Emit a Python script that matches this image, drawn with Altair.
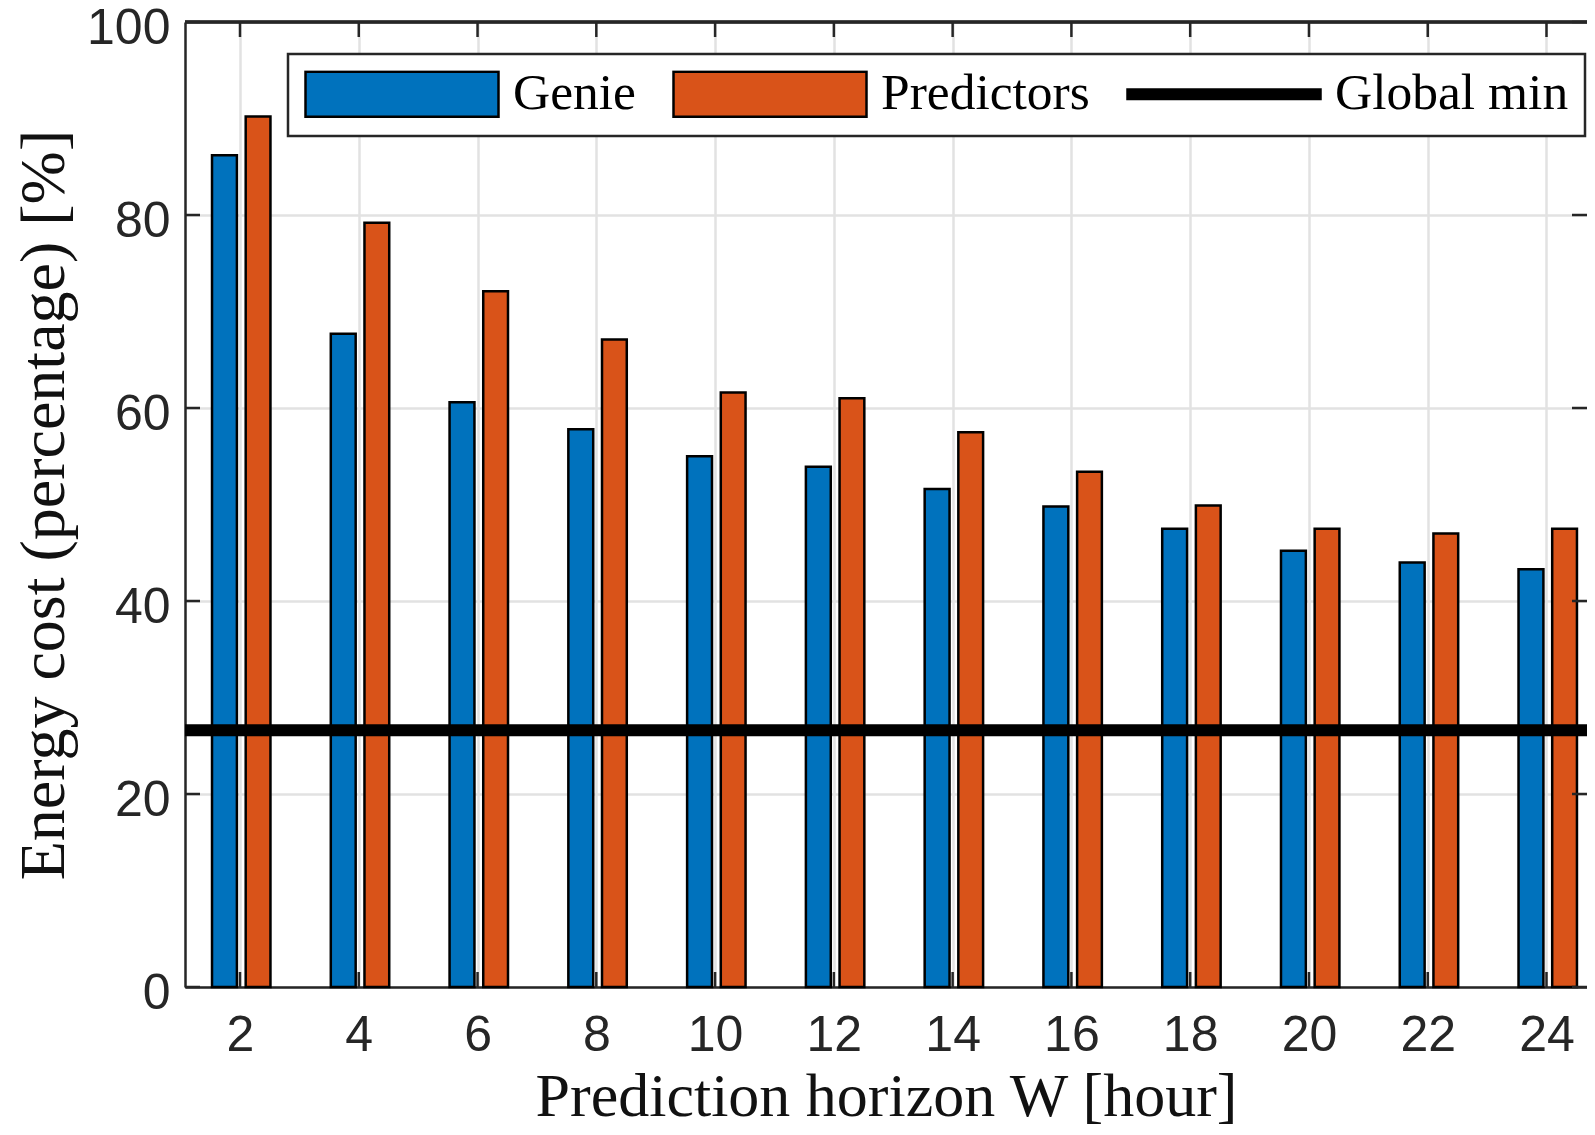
import altair as alt
import pandas as pd

# ---- data ----
HORIZON = [2, 4, 6, 8, 10, 12, 14, 16, 18, 20, 22, 24]
GENIE = [86.2, 67.7, 60.6, 57.8, 55.0, 53.9, 51.6, 49.8, 47.5, 45.2, 44.0, 43.3]
PREDICTORS = [90.2, 79.2, 72.1, 67.1, 61.6, 61.0, 57.5, 53.4, 49.9, 47.5, 47.0, 47.5]
GLOBAL_MIN = [26.6]
SERIES = ["Genie", "Predictors", "Global min"]
COLORS = ["#0072BD", "#D95319", "#000000"]
Y_TICKS = [0, 20, 40, 60, 80, 100]

# ---- layout ----
W, H = 1402, 965
X_DOMAIN = [1.074, 24.682]
AX = "#262626"
GRID = "#e2e2e2"
LW = 2.5
TICK = 15

rows = []
for w, g, p in zip(HORIZON, GENIE, PREDICTORS):
    rows.append({"W": w, "series": "Genie", "value": g})
    rows.append({"W": w, "series": "Predictors", "value": p})
bars_df = pd.DataFrame(rows)

x_scale = alt.Scale(domain=X_DOMAIN, nice=False, zero=False)
y_scale = alt.Scale(domain=[0, 100], nice=False, zero=False)

x_axis = alt.Axis(
    values=HORIZON, format="d", title="Prediction horizon W [hour]",
    titleFont="Liberation Serif", titleFontSize=62, titleFontWeight="normal",
    titleColor="#111111", titleBaseline="alphabetic", titleY=128,
    labelFont="Liberation Sans", labelFontSize=50, labelColor=AX, labelPadding=23,
    labelFlush=False, labelOverlap=False,
    ticks=False, tickSize=0, domainColor=AX, domainWidth=LW,
    grid=True, gridColor=GRID, gridWidth=LW,
)
y_axis = alt.Axis(
    values=Y_TICKS, format="d", title="Energy cost (percentage) [%]",
    titleFont="Liberation Serif", titleFontSize=64, titleFontWeight="normal",
    titleColor="#111111", titleBaseline="alphabetic", titleX=-122, titleY=H / 2,
    labelFont="Liberation Sans", labelFontSize=50, labelColor=AX, labelPadding=15,
    labelOffset=6, labelFlush=False, labelOverlap=False,
    ticks=False, tickSize=0, domainColor=AX, domainWidth=LW,
    grid=True, gridColor=GRID, gridWidth=LW,
)

bars = alt.Chart(bars_df).transform_calculate(
    x0="datum.W + (datum.series == 'Genie' ? -0.471 : 0.096)",
    x1="datum.W + (datum.series == 'Genie' ? -0.052 : 0.513)",
).mark_rect(stroke="black", strokeWidth=LW).encode(
    x=alt.X("x0:Q", scale=x_scale, axis=x_axis),
    x2="x1:Q",
    y=alt.Y("value:Q", scale=y_scale, axis=y_axis),
    y2=alt.datum(0),
    fill=alt.Fill("series:N", scale=alt.Scale(domain=SERIES[:2], range=COLORS[:2]), legend=None),
)

yt = pd.DataFrame({"t": Y_TICKS})
xt = pd.DataFrame({"t": HORIZON})
left_ticks = alt.Chart(yt).mark_rule(color=AX, strokeWidth=LW).encode(
    y=alt.Y("t:Q", scale=y_scale), x=alt.value(0), x2=alt.value(TICK))
right_ticks = alt.Chart(yt).mark_rule(color=AX, strokeWidth=LW).encode(
    y=alt.Y("t:Q", scale=y_scale), x=alt.value(W - TICK), x2=alt.value(W))
bottom_ticks = alt.Chart(xt).mark_rule(color=AX, strokeWidth=LW).encode(
    x=alt.X("t:Q", scale=x_scale), y=alt.value(H - TICK), y2=alt.value(H))
top_ticks = alt.Chart(xt).mark_rule(color=AX, strokeWidth=LW).encode(
    x=alt.X("t:Q", scale=x_scale), y=alt.value(0), y2=alt.value(TICK))
top_border = alt.Chart(yt).mark_rule(color=AX, strokeWidth=LW).encode(
    x=alt.value(0), x2=alt.value(W), y=alt.value(0))

gmin = alt.Chart(pd.DataFrame({"v": GLOBAL_MIN})).mark_rule(
    color="black", strokeWidth=12, strokeCap="butt").encode(y=alt.Y("v:Q", scale=y_scale))

RECT = "M-1,-0.233H1V0.233H-1Z"
LINE = "M-1,-0.05H1V0.05H-1Z"
legend = alt.Legend(
    title=None, orient="none", legendX=103, legendY=32, direction="horizontal",
    symbolSize=37249, clipHeight=48, labelFont="Liberation Serif", labelFontSize=51.5,
    labelColor="black", labelBaseline="middle", labelOffset=13, columnPadding=36,
    padding=16, strokeColor=AX, fillColor="white", labelLimit=500,
    symbolStrokeColor="black", symbolStrokeWidth=LW,
)
leg_df = pd.DataFrame({"series": SERIES})
leg = alt.Chart(leg_df).mark_point(filled=True, opacity=1, size=37249,
                                   stroke="black", strokeWidth=LW).encode(
    x=alt.value(-3000), y=alt.value(-3000),
    color=alt.Color("series:N", scale=alt.Scale(domain=SERIES, range=COLORS), legend=legend),
    shape=alt.Shape("series:N", scale=alt.Scale(domain=SERIES, range=[RECT, RECT, LINE]), legend=legend),
)

chart = alt.layer(
    bars, left_ticks, right_ticks, bottom_ticks, top_ticks, top_border, gmin, leg
).properties(
    width=W, height=H,
    autosize=alt.AutoSizeParams(type="none"),
    padding={"left": 177, "top": 14, "right": 0, "bottom": 140},
    background="white",
).configure_view(stroke=None).configure_legend(strokeWidth=LW)

chart.save("out.html", embed_options={"renderer": "svg", "actions": False})
